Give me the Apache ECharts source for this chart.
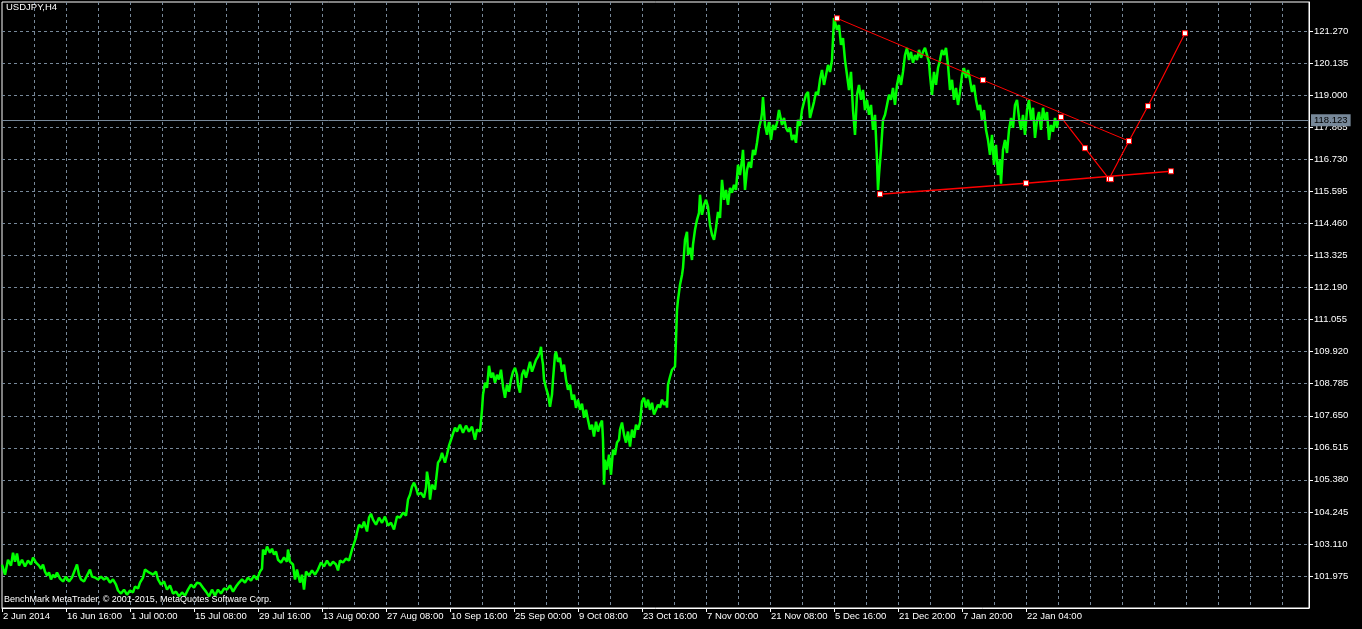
<!DOCTYPE html>
<html><head><meta charset="utf-8">
<script src="https://cdn.jsdelivr.net/npm/echarts@6/dist/echarts.min.js"></script>
<style>html,body{margin:0;padding:0;background:#000;}#c{width:1362px;height:629px;}</style>
</head><body><div id="c"></div>
<script>
const symbolTitle = 'USDJPY,H4';
const copyright = 'BenchMark MetaTrader, \u00A9 2001-2015, MetaQuotes Software Corp.';
const xTickLabels = ['2 Jun 2014','16 Jun 16:00','1 Jul 00:00','15 Jul 08:00','29 Jul 16:00','13 Aug 00:00','27 Aug 08:00','10 Sep 16:00','25 Sep 00:00','9 Oct 08:00','23 Oct 16:00','7 Nov 00:00','21 Nov 08:00','5 Dec 16:00','21 Dec 20:00','7 Jan 20:00','22 Jan 04:00'];
const barCount = 1308;
const barsPerLabel = 64;
const barsPerGrid = 32;
const yMin = 100.840, yMax = 122.307, yStep = 1.135;
const lastPrice = 118.123;

const barIdx = [0,3,6,9,11,13,15,17,20,23,26,29,31,34,37,39,41,43,45,47,49,51,53,55,58,61,64,67,70,73,75,77,79,82,85,88,90,93,96,99,102,105,108,111,114,116,119,122,125,128,131,133,136,138,141,143,145,147,149,151,154,156,159,162,165,168,171,174,177,180,183,186,189,192,195,198,201,204,207,210,213,216,219,222,225,228,231,234,237,240,243,246,249,252,255,258,260,261,263,265,268,270,272,274,276,279,282,285,286,288,291,293,295,298,300,302,304,307,310,313,316,319,322,325,328,331,334,336,338,341,344,347,350,352,354,355,357,360,362,365,367,369,371,374,377,380,383,386,389,392,395,398,401,404,406,408,410,412,414,416,419,422,424,425,427,428,430,433,435,436,438,440,443,445,447,449,451,453,455,458,461,464,467,470,473,475,478,
480,481,483,485,487,489,491,493,495,497,499,501,503,505,507,509,511,513,515,516,518,520,522,524,526,528,530,532,534,536,538,539,540,541,542,544,546,548,550,551,553,554,556,558,560,562,564,566,568,570,572,574,576,578,580,582,584,586,588,590,592,594,596,598,600,601,602,603,605,607,609,611,613,615,617,618,620,622,624,626,628,630,632,634,636,638,640,642,644,646,648,650,652,654,656,658,660,662,664,665,666,668,670,672,673,674,675,676,678,680,681,683,685,686,688,690,691,693,695,697,698,700,702,704,706,708,710,712,714,716,718,720,722,724,726,728,730,732,734,736,738,740,741,743,745,747,749,751,753,755,757,759,760,761,763,765,767,769,771,773,775,777,778,780,782,784,786,788,790,792,794,796,798,800,802,804,806,808,810,812,814,816,818,820,822,824,826,828,830,832,833,835,837,839,841,843,845,847,849,851,853,855,857,859,861,863,865,867,869,871,873,875,876,877,879,881,883,885,887,889,891,893,895,897,899,901,903,905,907,909,911,913,915,917,919,921,923,925,927,928,930,932,934,936,938,940,942,944,946,948,950,952,954,956,958,960,962,964,966,968,970,972,974,976,978,980,982,984,986,988,990,992,994,996,998,999,1001,1003,1005,1007,1009,1011,1013,1015,1017,1019,1021,1023,1025,1027,1029,1031,1033,1035,1037,1039,1041,1043,1045,1047,1049,1051,1053,1055,1056];

const price = [102.38,102.02,102.55,102.34,102.80,102.48,102.77,102.34,102.55,102.31,102.52,102.38,102.63,102.45,102.34,102.23,102.38,102.13,101.99,102.10,101.85,102.02,101.92,102.10,101.88,101.78,101.95,101.78,101.92,102.20,102.38,102.02,101.85,101.78,101.99,102.20,101.95,101.92,101.85,101.95,101.85,101.92,101.74,101.85,101.67,101.46,101.35,101.49,101.31,101.46,101.39,101.60,101.53,101.74,101.92,102.20,102.27,102.10,102.13,102.02,102.13,101.85,101.67,101.78,101.49,101.64,101.35,101.42,101.25,101.39,101.28,101.49,101.67,101.56,101.74,101.71,101.56,101.42,101.25,101.49,101.28,101.49,101.35,101.53,101.49,101.64,101.42,101.60,101.74,101.85,101.74,101.92,101.81,101.99,101.85,102.13,102.23,102.91,102.73,103.02,102.80,102.94,102.73,102.84,102.55,102.45,102.63,102.48,102.91,102.48,102.38,101.85,102.20,101.74,102.02,101.49,102.13,101.99,102.17,102.02,102.20,102.45,102.31,102.52,102.34,102.48,102.38,102.17,102.52,102.45,102.59,102.52,102.91,102.98,103.33,103.51,103.79,103.69,103.90,103.55,104.04,104.18,103.97,103.79,104.04,103.86,104.08,103.76,103.86,103.62,104.08,104.04,104.22,104.11,104.68,104.85,105.14,105.28,105.10,104.85,104.92,104.75,105.10,105.67,105.21,104.68,105.21,105.03,105.67,105.99,106.09,106.34,105.99,106.27,106.59,106.80,106.87,107.23,107.09,107.33,107.05,107.30,107.09,107.26,106.80,107.16,107.09,
107.86,108.40,108.82,108.64,109.42,109.00,109.17,108.82,109.10,108.93,109.28,108.68,108.29,108.75,108.50,108.93,109.21,109.35,109.10,108.75,108.47,109.10,109.28,109.00,109.28,109.56,109.21,109.42,109.63,109.74,109.92,110.09,109.70,109.46,108.93,108.64,108.40,107.97,108.40,108.93,109.81,109.92,109.56,109.70,109.21,109.46,108.93,108.57,108.75,108.22,108.40,107.93,108.22,107.86,108.08,107.58,107.86,107.51,107.16,107.33,106.91,107.44,107.09,107.33,107.48,106.80,105.21,106.09,105.74,106.27,105.56,106.45,106.27,106.70,106.80,107.16,107.41,106.98,106.70,107.09,106.56,107.16,106.87,107.33,107.16,107.41,108.15,108.29,107.94,108.22,107.86,108.11,107.69,107.86,108.04,107.94,108.22,108.04,108.15,107.94,108.75,109.03,109.28,109.21,109.39,110.34,111.40,111.76,112.29,112.64,112.89,113.88,114.17,113.35,113.60,113.17,113.71,114.24,114.59,114.84,115.48,114.77,115.12,115.30,115.05,114.41,114.06,113.88,114.31,114.87,114.66,116.01,115.30,115.65,115.12,115.72,115.55,115.83,115.65,116.54,116.18,116.71,117.07,115.65,116.36,116.64,116.43,117.07,116.89,117.32,117.85,118.13,118.38,118.94,117.95,117.60,118.06,117.42,117.95,117.78,118.03,118.48,118.31,117.95,118.20,117.85,117.71,117.85,117.42,117.60,117.32,118.13,117.92,118.48,118.77,119.02,119.12,118.20,118.48,118.77,119.12,119.02,119.55,119.90,119.37,119.72,120.08,119.83,120.25,121.74,121.81,121.32,121.49,120.79,121.03,120.25,119.72,119.19,119.83,118.48,117.60,119.02,119.37,118.84,119.19,118.48,118.84,118.31,118.66,117.78,118.31,116.71,115.65,116.18,117.07,118.13,118.31,118.66,119.02,118.84,119.26,118.66,119.37,119.72,119.37,119.83,120.43,120.68,120.25,120.54,120.15,120.43,120.25,120.61,120.33,120.54,120.68,120.43,120.18,119.72,119.02,119.83,119.37,119.97,120.25,120.61,120.43,120.68,120.08,119.19,119.55,118.84,119.26,118.66,119.12,119.72,119.97,119.62,119.90,119.55,119.12,119.37,118.84,118.48,118.66,118.13,118.48,117.78,117.42,116.89,117.60,116.54,117.25,116.18,116.71,115.87,117.07,117.42,116.96,117.78,118.20,117.85,118.66,118.84,118.20,117.78,118.31,117.60,118.48,118.84,118.13,118.56,117.49,118.13,118.41,117.78,118.56,118.13,118.41,117.42,117.95,117.71,118.20,117.85,118.12];

const upperLineIdx = [835, 981, 1127];
const upperLinePrice = [121.73, 119.54, 117.38];
const lowerLineIdx = [878, 1024, 1169];
const lowerLinePrice = [115.50, 115.89, 116.31];
const zigzagIdx = [1059, 1083, 1107, 1109, 1127, 1146, 1183];
const zigzagPrice = [118.23, 117.13, 116.04, 116.03, 117.38, 118.62, 121.20];

const FONT = 'Liberation Sans';
const GRID = '#778899';
const cats = Array.from({length: barCount}, (_, i) =>
  (i % barsPerLabel === 0 && xTickLabels[i / barsPerLabel]) ? xTickLabels[i / barsPerLabel] : '');
const pair = (xs, ys) => xs.map((x, i) => [x, ys[i]]);
const markerStyle = {color: '#fff', borderColor: '#ff0000', borderWidth: 1};

const chart = echarts.init(document.getElementById('c'), null, {renderer: 'canvas'});
chart.setOption({
  backgroundColor: '#000',
  animation: false,
  title: [
    {text: symbolTitle, left: 6, top: 2, padding: 0, textStyle: {color: '#fff', fontSize: 9.5, fontWeight: 'normal', fontFamily: FONT}},
    {text: copyright, left: 4, top: 595, padding: 0, textStyle: {color: '#fff', fontSize: 9, fontWeight: 'normal', fontFamily: FONT}}
  ],
  grid: {left: 2, right: 53, top: 2, bottom: 21, show: true, borderColor: '#fff', borderWidth: 1, backgroundColor: 'transparent'},
  xAxis: {
    type: 'category', data: cats, boundaryGap: false,
    axisLine: {show: true, lineStyle: {color: '#fff', width: 1}},
    axisTick: {show: true, length: 4, lineStyle: {color: '#fff'}, interval: (i, v) => v !== ''},
    axisLabel: {show: true, interval: (i, v) => v !== '', align: 'left', margin: 3, color: '#fff', fontSize: 9.5, fontFamily: FONT, padding: [0, 0, 0, 1]},
    splitLine: {show: true, interval: (i) => i % barsPerGrid === 0 && i > 0 && i < barCount - 1, lineStyle: {color: GRID, type: [3, 3], width: 1}}
  },
  yAxis: {
    type: 'value', position: 'right', min: yMin, max: yMax, interval: yStep, scale: true,
    axisLine: {show: true, lineStyle: {color: '#fff'}},
    axisTick: {show: true, length: 4, lineStyle: {color: '#fff'}},
    axisLabel: {color: '#fff', fontSize: 9.5, fontFamily: FONT, margin: 5, showMinLabel: false, showMaxLabel: false, formatter: v => v.toFixed(3)},
    splitLine: {show: true, showMinLine: false, showMaxLine: false, lineStyle: {color: GRID, type: [3, 3], width: 1}}
  },
  series: [
    {
      type: 'line', data: pair(barIdx, price), showSymbol: false, symbol: 'none',
      lineStyle: {color: '#00ff00', width: 2.5}, z: 3,
      markLine: {
        silent: true, symbol: 'none', z: 10,
        lineStyle: {color: GRID, type: 'solid', width: 1},
        label: {position: 'end', distance: 2, formatter: lastPrice.toFixed(3), backgroundColor: GRID, color: '#000', padding: [1, 3, 1, 3], fontSize: 9.5, fontFamily: FONT},
        data: [{yAxis: lastPrice}]
      }
    },
    {type: 'line', data: pair(upperLineIdx, upperLinePrice), symbol: 'rect', symbolSize: 5, showSymbol: true, showAllSymbol: true, itemStyle: markerStyle, lineStyle: {color: '#ff0000', width: 1}, z: 5},
    {type: 'line', data: pair(lowerLineIdx, lowerLinePrice), symbol: 'rect', symbolSize: 5, showSymbol: true, showAllSymbol: true, itemStyle: markerStyle, lineStyle: {color: '#ff0000', width: 1.5}, z: 5},
    {type: 'line', data: pair(zigzagIdx, zigzagPrice), symbol: 'rect', symbolSize: 5, showSymbol: true, showAllSymbol: true, itemStyle: markerStyle, lineStyle: {color: '#ff0000', width: 1.2}, z: 6}
  ]
});
</script>
</body></html>
